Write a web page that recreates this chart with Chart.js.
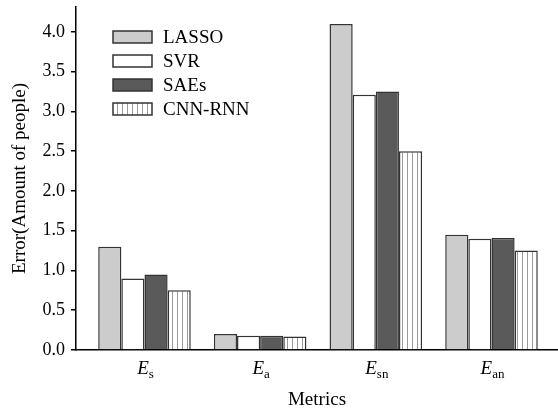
<!DOCTYPE html>
<html>
<head>
<meta charset="utf-8">
<script src="https://cdn.jsdelivr.net/npm/chart.js@4.4.1/dist/chart.umd.min.js"></script>
<style>
    html, body { margin: 0; padding: 0; background: #fff; }
</style>
</head>
<body>
<canvas id="myChart" width="558" height="413"></canvas>
<script>
// data
const categories = ['s', 'a', 'sn', 'an'];   // subscripts of E
const seriesNames = ['LASSO', 'SVR', 'SAEs', 'CNN-RNN'];
const lasso = [1.30, 0.20, 4.10, 1.45];
const svr = [0.90, 0.18, 3.21, 1.40];
const saes = [0.95, 0.18, 3.25, 1.41];
const cnnRnn = [0.75, 0.17, 2.50, 1.25];
const yTicks = [0, 0.5, 1.0, 1.5, 2.0, 2.5, 3.0, 3.5, 4.0];

const serif = '"Liberation Serif", "Times New Roman", serif';

// vertical stripe fill for CNN-RNN
const stripes = (() => {
    const c = document.createElement('canvas');
    c.width = 5;
    c.height = 10;
    const g = c.getContext('2d');
    g.fillStyle = '#fff';
    g.fillRect(0, 0, 5, 10);
    g.fillStyle = '#9a9a9a';
    g.fillRect(2, 0, 1, 10);
    return g.createPattern(c, 'repeat');
})();

const toPoints = (arr) => arr.map((v, i) => ({x: i, y: v}));

const fills = ['#cccccc', '#ffffff', '#5a5a5a', stripes];
const allSeries = [lasso, svr, saes, cnnRnn];

const datasets = allSeries.map((s, i) => ({
    label: seriesNames[i],
    data: toPoints(s),
    backgroundColor: fills[i],
    borderColor: '#333',
    borderWidth: 1.5,
    categoryPercentage: 0.8,
    barPercentage: 1.0
}));

// x labels: italic E with subscript
const xLabels = {
    id: 'xLabels',
    afterDraw(chart) {
        const ctx = chart.ctx;
        const x = chart.scales.x;
        ctx.save();
        ctx.fillStyle = '#000';
        ctx.textBaseline = 'alphabetic';
        categories.forEach((sub, i) => {
            const px = x.getPixelForValue(i);
            ctx.font = 'italic 19px ' + serif;
            const wE = ctx.measureText('E').width;
            ctx.font = '13px ' + serif;
            const wS = ctx.measureText(sub).width;
            const start = px + 1 - (wE + wS) / 2;
            ctx.font = 'italic 19px ' + serif;
            ctx.textAlign = 'left';
            ctx.fillText('E', start, 374);
            ctx.font = '13px ' + serif;
            ctx.fillText(sub, start + wE, 378);
        });
        ctx.restore();
    }
};

// legend in the upper left of the plot
const boxLegend = {
    id: 'boxLegend',
    afterDraw(chart) {
        const ctx = chart.ctx;
        ctx.save();
        chart.data.datasets.forEach((ds, i) => {
            const top = 31 + i * 24;
            ctx.fillStyle = ds.backgroundColor;
            ctx.fillRect(113, top, 39, 12);
            ctx.strokeStyle = '#333';
            ctx.lineWidth = 1.5;
            ctx.strokeRect(113, top, 39, 12);
            ctx.fillStyle = '#000';
            ctx.font = '19px ' + serif;
            ctx.textAlign = 'left';
            ctx.textBaseline = 'middle';
            ctx.fillText(ds.label, 163, top + 7);
        });
        ctx.restore();
    }
};

new Chart(document.getElementById('myChart'), {
    type: 'bar',
    data: {datasets},
    plugins: [xLabels, boxLegend],
    options: {
        responsive: false,
        animation: false,
        layout: {padding: {top: 7, right: 0, left: 0, bottom: 0}},
        scales: {
            x: {
                type: 'linear',
                offset: false,
                bounds: 'data',
                min: -0.592,
                max: 3.575,
                afterDataLimits: (s) => { s.min = -0.592; s.max = 3.575; },
                afterBuildTicks: (s) => { s.ticks = categories.map((c, i) => ({value: i})); },
                afterFit: (s) => { s.height = 63; },
                grid: {display: false, drawTicks: false, offset: false},
                border: {display: true, color: '#000', width: 1.5},
                ticks: {display: false},
                title: {
                    display: true,
                    text: 'Metrics',
                    color: '#000',
                    font: {family: serif, size: 19},
                    padding: {top: 0, bottom: 2}
                }
            },
            y: {
                min: 0,
                max: 4.314,
                afterFit: (s) => { s.width = 76; s.paddingTop = 0; s.paddingBottom = 0; },
                afterBuildTicks: (s) => { s.ticks = yTicks.map(v => ({value: v})); },
                grid: {drawOnChartArea: false, drawTicks: true, tickLength: 5, color: '#000', lineWidth: 1.5},
                border: {display: true, color: '#000', width: 1.5},
                ticks: {
                    color: '#000',
                    padding: 6,
                    font: {family: serif, size: 18},
                    callback: (v) => v.toFixed(1)
                },
                title: {
                    display: true,
                    text: 'Error(Amount of people)',
                    color: '#000',
                    font: {family: serif, size: 19},
                    padding: {top: 9, bottom: 0}
                }
            }
        },
        plugins: {
            legend: {display: false},
            tooltip: {enabled: false}
        }
    }
});
</script>
</body>
</html>
